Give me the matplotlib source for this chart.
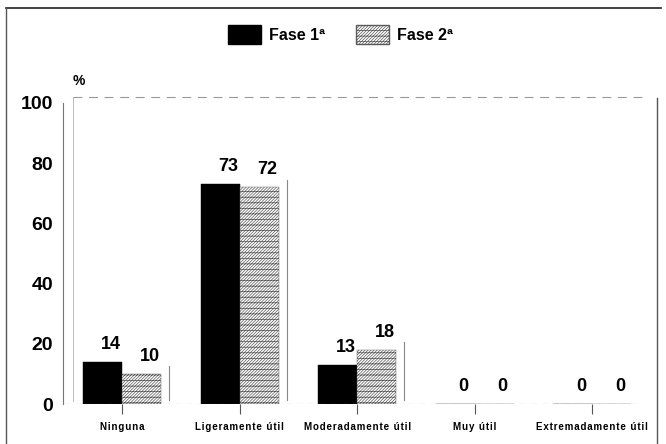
import matplotlib
matplotlib.use('Agg')
import matplotlib.pyplot as plt
import matplotlib.patches as mpatches
import numpy as np

plt.rcParams['font.family'] = ['Liberation Sans', 'DejaVu Sans']
plt.rcParams['hatch.linewidth'] = 0.5

# utilidad percibida, % por fase
categorias = ['Ninguna', 'Ligeramente útil', 'Moderadamente útil', 'Muy útil', 'Extremadamente útil']
fase1 = [14, 73, 13, 0, 0]
fase2 = [10, 72, 18, 0, 0]
series = ['Fase 1ª', 'Fase 2ª']
yticks = [0, 20, 40, 60, 80, 100]

TRAMA = '///////////---'


def espaciado(txt):
    # separacion entre letras de las etiquetas del eje x
    return '\u200a'.join(txt)


fig = plt.figure(figsize=(6.66, 4.44), dpi=100)
ax = fig.add_axes([0.0946, 0.09, 0.874, 0.694])

x = np.arange(len(categorias))
w = 0.332

ax.bar(x - w / 2, fase1, w, color='black', edgecolor='black', linewidth=0.3)
ax.bar(x + w / 2, fase2, w, color='white', edgecolor='#5a5a5a',
       linewidth=0.3, hatch=TRAMA)

# aristas laterales (profundidad) de las barras de la fase 2
for xi, v in zip(x, fase2):
    if v > 0:
        ax.plot([xi + w + 0.07, xi + w + 0.07], [1.5, v + 2.5], color='#888', lw=0.8)

# etiquetas de valor
for xi, v in zip(x, fase1):
    ax.text(xi - w / 2 + 0.07, v + 3, str(v), ha='center', va='bottom', fontsize=13, fontweight='bold')
for xi, v in zip(x, fase2):
    ax.text(xi + w / 2 + 0.07, v + 3, str(v), ha='center', va='bottom', fontsize=13, fontweight='bold')

ax.set_xlim(-0.502, 4.45)
ax.set_ylim(0, 102.3)

# pared del fondo
ax.plot([-0.42, 4.45], [102, 102], color='#999', lw=0.8, ls=(0, (8, 6)))
ax.plot([-0.42, -0.42], [1, 102], color='#bbb', lw=0.7)
ax.plot([-0.502, 4.4], [0, 0], color='#888', lw=0.8, ls=(0, (6, 4)))

for s in ['top', 'right', 'bottom']:
    ax.spines[s].set_visible(False)
ax.spines['left'].set_color('#777')
ax.spines['left'].set_linewidth(0.8)
ax.spines['left'].set_bounds(0, 100)

ax.set_yticks(yticks)
ax.set_yticklabels([str(t) for t in yticks], fontsize=14, fontweight='bold')
ax.tick_params(axis='y', length=0, pad=7)
ax.set_xticks(x)
ax.set_xticklabels([espaciado(c) for c in categorias], fontsize=7, fontweight='bold')
ax.tick_params(axis='x', length=7, color='#555', width=0.8, pad=6)

ax.text(-0.37, 105, '%', ha='center', va='bottom', fontsize=10, fontweight='bold')

# leyenda
h1 = mpatches.Patch(facecolor='black', edgecolor='black')
h2 = mpatches.Patch(facecolor='white', edgecolor='#5a5a5a', hatch=TRAMA)
fig.legend([h1, h2], series, loc='center', bbox_to_anchor=(0.511, 0.922), ncol=2,
           frameon=False, prop={'weight': 'bold', 'size': 11.5},
           handlelength=2.1, handleheight=1.5, handletextpad=0.5, columnspacing=1.9)

# marco de la figura
fig.add_artist(plt.Line2D([0.009, 0.992], [0.982, 0.982], color='#222', lw=1.2, transform=fig.transFigure))
fig.add_artist(plt.Line2D([0.009, 0.009], [0.0, 0.982], color='#555', lw=1.0, transform=fig.transFigure))
fig.add_artist(plt.Line2D([0.987, 0.987], [0.0, 0.78], color='#555', lw=1.0, transform=fig.transFigure))

fig.savefig('out.png', dpi=100)
